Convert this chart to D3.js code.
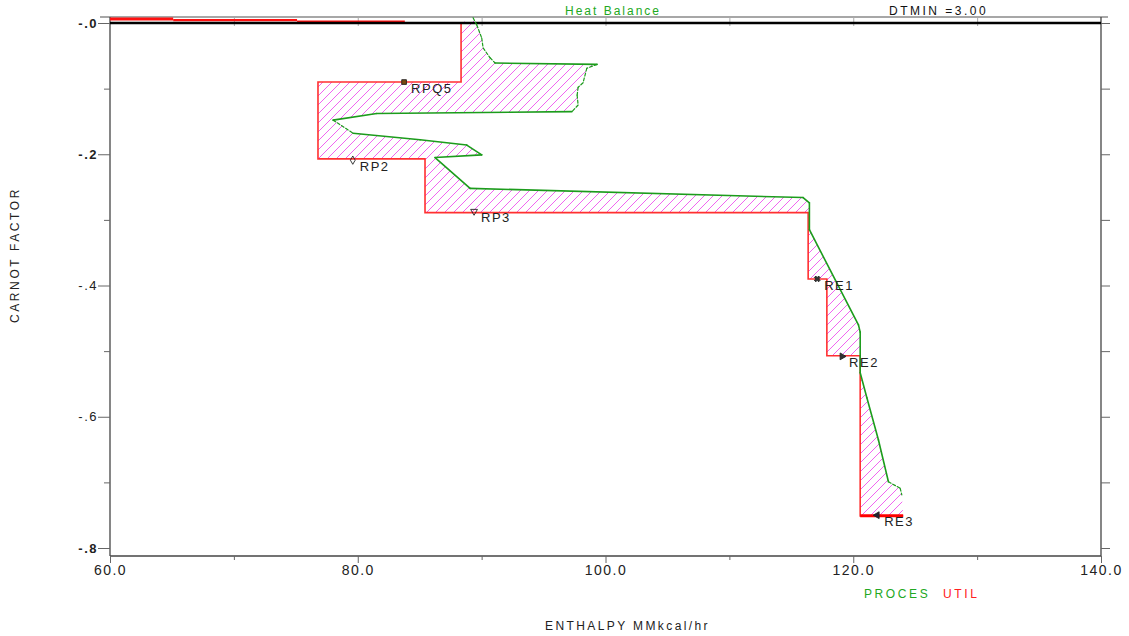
<!DOCTYPE html>
<html><head><meta charset="utf-8">
<script src="https://cdn.jsdelivr.net/npm/d3@7"></script>
<style>
body{margin:0;background:#fff;}
svg text{font-family:"Liberation Sans",Arial,sans-serif;}
</style></head><body>
<svg id="c" width="1129" height="636"></svg>
<script>
// Process (grand composite) curve: enthalpy and Carnot factor
const procH  = [89.31, 89.61, 90.01, 90.12, 90.68, 91.09, 99.32, 98.49, 98.19, 97.79, 97.71, 97.79, 97.30, 81.53, 78.01, 79.62, 85.03, 88.80, 90.01, 86.24, 89.07, 115.95, 116.46, 116.46, 120.42, 120.56, 120.56, 121.10, 122.03, 122.84, 123.79, 123.92];
const procCF = [0.008, -0.003, -0.023, -0.038, -0.053, -0.061, -0.063, -0.069, -0.091, -0.098, -0.110, -0.125, -0.135, -0.138, -0.148, -0.168, -0.178, -0.186, -0.201, -0.205, -0.252, -0.266, -0.274, -0.315, -0.460, -0.471, -0.533, -0.571, -0.635, -0.699, -0.709, -0.719];
// segment style starting at each point (1 = dotted)
const procDotted = [1,1,1,1,1,0,1,1,1,1,1,1,0,0,1,0,0,0,0,0,0,0,0,0,0,0,0,0,0,1,1];
// Utility composite (step curve)
const utilH  = [88.34, 76.79, 85.43, 116.36, 117.87, 120.56, 124.03];
const utilCF = [0, -0.090, -0.207, -0.289, -0.390, -0.507, -0.751];
// Utility segments near zero Carnot factor
const topUtilH  = [60, 65.1, 75.1, 83.8];
const topUtilCF = [0.0061, 0.0043, 0.0027];
// Stream labels
const streamNames = ["RPQ5", "RP2", "RP3", "RE1", "RE2", "RE3"];
const streamH  = [83.74, 79.60, 89.39, 117.09, 119.10, 121.93];
const streamCF = [-0.090, -0.209, -0.287, -0.390, -0.508, -0.750];
// Axis ticks
const xTickValues = [60, 80, 100, 120, 140];
const xTickLabels = ["60.0", "80.0", "100.0", "120.0", "140.0"];
const xMinorTicks = [70, 90, 110, 130];
const yTickValues = [0, -0.2, -0.4, -0.6, -0.8];
const yTickLabels = ["-.0", "-.2", "-.4", "-.6", "-.8"];
const yMinorTicks = [-0.1, -0.3, -0.5, -0.7];

const svg = d3.select("#c");
const L = 110, R = 1101, T = 17, B = 556;
const x = d3.scaleLinear().domain([60, 140]).range([L, R]);
const y = d3.scaleLinear().domain([0, -0.8]).range([23, 548]);

// hatch pattern
const defs = svg.append("defs");
const pat = defs.append("pattern").attr("id", "hatch").attr("patternUnits", "userSpaceOnUse")
  .attr("width", 9).attr("height", 9);
pat.append("path").attr("d", "M0,9 L9,0 M-2,2 L2,-2 M7,11 L11,7")
  .attr("stroke", "#ee55ee").attr("stroke-width", 0.9);

// build stepped utility points
const utilPts = [];
for (let i = 0; i < utilH.length; i++) {
  utilPts.push([x(utilH[i]), y(utilCF[i])]);
  if (i < utilH.length - 1) utilPts.push([x(utilH[i]), y(utilCF[i + 1])]);
}
const procPts = procH.map((h, i) => [x(h), y(procCF[i])]);
const poly = procPts.concat(utilPts.slice().reverse());
svg.append("path").attr("d", d3.line()(poly) + "Z")
  .attr("fill", "url(#hatch)").attr("fill-rule", "evenodd").attr("stroke", "none");

// frame
svg.append("line").attr("x1", 100).attr("x2", 1108).attr("y1", T).attr("y2", T).attr("stroke", "#8a8a8a").attr("stroke-width", 1.5);
svg.append("line").attr("x1", L).attr("x2", L).attr("y1", T).attr("y2", B).attr("stroke", "#444").attr("stroke-width", 1.3);
svg.append("line").attr("x1", R).attr("x2", R).attr("y1", T).attr("y2", B).attr("stroke", "#444").attr("stroke-width", 1.3);
svg.append("line").attr("x1", L).attr("x2", R).attr("y1", B).attr("y2", B).attr("stroke", "#444").attr("stroke-width", 1.3);

// axes
function styleAxis(g) { g.select(".domain").remove(); g.selectAll(".tick line").attr("stroke", "#666"); }
const yAx = svg.append("g").attr("transform", `translate(${L},0)`)
  .call(d3.axisLeft(y).tickValues(yTickValues).tickSize(12).tickPadding(0).tickFormat((d, i) => yTickLabels[i]));
styleAxis(yAx);
yAx.selectAll("text").attr("font-size", 13).attr("fill", "#222").attr("letter-spacing", 1.5)
  .attr("font-weight", (d, i) => (i === 0 || i === 1 || i === 4) ? "bold" : "normal");
const yAxMin = svg.append("g").attr("transform", `translate(${L},0)`)
  .call(d3.axisLeft(y).tickValues(yMinorTicks).tickSize(6).tickFormat(""));
styleAxis(yAxMin);
const yAxR = svg.append("g").attr("transform", `translate(${R},0)`)
  .call(d3.axisRight(y).tickValues(yTickValues.concat(yMinorTicks)).tickSize(9).tickFormat(""));
styleAxis(yAxR);
const xAx = svg.append("g").attr("transform", `translate(0,${B})`)
  .call(d3.axisBottom(x).tickValues(xTickValues).tickSize(7).tickPadding(2).tickFormat((d, i) => xTickLabels[i]));
styleAxis(xAx);
xAx.selectAll("text").attr("font-size", 14).attr("fill", "#222").attr("letter-spacing", 1.5);
const xAxMin = svg.append("g").attr("transform", `translate(0,${B})`)
  .call(d3.axisBottom(x).tickValues(xMinorTicks).tickSize(4).tickFormat(""));
styleAxis(xAxMin);
const xAxTop = svg.append("g").attr("transform", `translate(0,${T})`)
  .call(d3.axisBottom(x).tickValues(xMinorTicks.concat([80, 100, 120])).tickSize(9).tickFormat(""));
styleAxis(xAxTop);
xAxTop.selectAll(".tick line").attr("stroke", "#aaa");

// top utility segments
const topW = [3, 2.2, 1.3];
topUtilCF.forEach((cf, i) => {
  svg.append("line").attr("x1", x(topUtilH[i])).attr("x2", x(topUtilH[i + 1]))
    .attr("y1", y(cf)).attr("y2", y(cf)).attr("stroke", "#ff1010").attr("stroke-width", topW[i]);
});

// utility curve
svg.append("path").attr("d", d3.line()(utilPts)).attr("fill", "none")
  .attr("stroke", "#ff3030").attr("stroke-width", 1.6);
const n = utilH.length;
svg.append("line").attr("x1", x(utilH[n - 2])).attr("x2", x(utilH[n - 1]))
  .attr("y1", y(utilCF[n - 1])).attr("y2", y(utilCF[n - 1])).attr("stroke", "#ff0000").attr("stroke-width", 3);

// zero line
svg.append("line").attr("x1", L).attr("x2", R).attr("y1", y(0)).attr("y2", y(0))
  .attr("stroke", "#000").attr("stroke-width", 2.5);

// process curve
for (let i = 0; i < procPts.length - 1; i++) {
  svg.append("line").attr("x1", procPts[i][0]).attr("y1", procPts[i][1])
    .attr("x2", procPts[i + 1][0]).attr("y2", procPts[i + 1][1])
    .attr("stroke", "#1c9c1c").attr("stroke-width", procDotted[i] ? 1.2 : 1.6)
    .attr("stroke-linecap", "round")
    .attr("stroke-dasharray", procDotted[i] ? "3,2" : null);
}

// stream markers and labels
const symTypes = [d3.symbolSquare, d3.symbolDiamond, d3.symbolTriangle, d3.symbolCross, d3.symbolTriangle, d3.symbolTriangle];
const symRot = [0, 0, 180, 45, 90, -90];
const symFill = ["#7a4a10", "none", "none", "#333", "#333", "#223"];
streamNames.forEach((nm, i) => {
  const px = x(streamH[i]), py = y(streamCF[i]);
  svg.append("path").attr("d", d3.symbol().type(symTypes[i]).size(i === 0 ? 22 : 20)())
    .attr("transform", `translate(${px},${py}) rotate(${symRot[i]})`)
    .attr("fill", symFill[i]).attr("stroke", "#222").attr("stroke-width", 0.9);
  svg.append("text").attr("x", px + 7).attr("y", py + 11).text(nm)
    .attr("font-size", 13).attr("fill", "#222").attr("letter-spacing", 1.5);
});

// titles and labels
svg.append("text").attr("x", 565).attr("y", 15).text("Heat Balance")
  .attr("font-size", 12).attr("fill", "#22a822").attr("letter-spacing", 2);
svg.append("text").attr("x", 889).attr("y", 15).text("DTMIN =3.00")
  .attr("font-size", 12).attr("fill", "#111").attr("letter-spacing", 2.5);
svg.append("text").attr("transform", "translate(19,255) rotate(-90)").attr("text-anchor", "middle")
  .text("CARNOT FACTOR").attr("font-size", 12).attr("fill", "#222").attr("letter-spacing", 2.6);
svg.append("text").attr("x", 545).attr("y", 630).text("ENTHALPY MMkcal/hr")
  .attr("font-size", 12).attr("fill", "#222").attr("letter-spacing", 2.4);
svg.append("text").attr("x", 864).attr("y", 598).text("PROCES")
  .attr("font-size", 12).attr("fill", "#22a822").attr("letter-spacing", 2.6);
svg.append("text").attr("x", 943).attr("y", 598).text("UTIL")
  .attr("font-size", 12).attr("fill", "#ff2020").attr("letter-spacing", 2.6);
</script>
</body></html>
